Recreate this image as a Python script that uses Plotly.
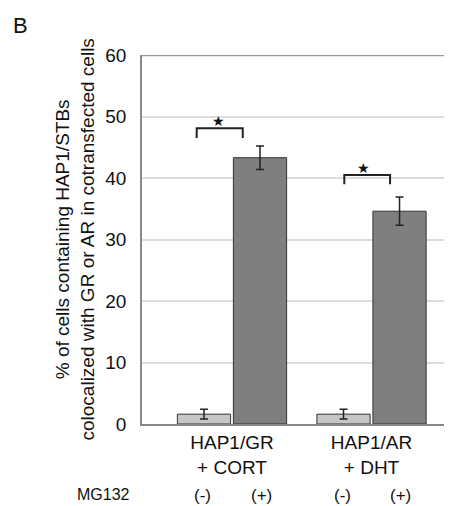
import plotly.graph_objects as go

categories = ["HAP1/GR<br>+ CORT", "HAP1/AR<br>+ DHT"]
mg132_minus = [1.6, 1.6]
mg132_minus_err = [0.8, 0.8]
mg132_plus = [43.3, 34.6]
mg132_plus_err = [1.9, 2.3]
y_ticks = [0, 10, 20, 30, 40, 50, 60]
signs = ["(-)", "(+)"]

FONT = "Liberation Sans, Arial, sans-serif"
INK = "#111111"

fig = go.Figure()
fig.add_trace(go.Bar(
    x=[0, 1], y=mg132_minus, name="MG132 (-)",
    marker=dict(color="#c6c6c6", line=dict(color="#333333", width=1)),
    error_y=dict(type="data", array=mg132_minus_err, color="#222222", thickness=1.5, width=4),
))
fig.add_trace(go.Bar(
    x=[0, 1], y=mg132_plus, name="MG132 (+)",
    marker=dict(color="#7f7f7f", line=dict(color="#333333", width=1)),
    error_y=dict(type="data", array=mg132_plus_err, color="#222222", thickness=1.5, width=4),
))

# significance brackets: (group, left offset, right offset, top y, leg y, star offset)
brackets = [(0, -0.253, 0.077, 48.1, 46.5, -0.10), (1, -0.195, 0.133, 40.5, 39.0, -0.054)]
for g, x0, x1, ytop, yleg, xs in brackets:
    fig.add_shape(type="path",
                  path=f"M {g+x0} {yleg} L {g+x0} {ytop} L {g+x1} {ytop} L {g+x1} {yleg}",
                  line=dict(color="#222222", width=2), xref="x", yref="y")
    fig.add_annotation(x=g + xs, y=ytop, text="★", showarrow=False, yanchor="middle",
                       font=dict(size=14, color=INK, family="DejaVu Sans"), yshift=7)

for g in range(2):
    for i, s in enumerate(signs):
        fig.add_annotation(x=g + (-0.208 if i == 0 else 0.208), xref="x",
                           y=-0.194, yref="paper", yanchor="middle", text=s, showarrow=False,
                           font=dict(size=17, color=INK, family=FONT))
fig.add_annotation(x=-0.033, xref="paper", y=-0.192, yref="paper", xanchor="right", yanchor="middle",
                   text="MG132", showarrow=False, font=dict(size=16, color=INK, family=FONT))
fig.add_annotation(x=-0.43, xref="paper", y=1.081, yref="paper", xanchor="left", yanchor="middle",
                   text="B", showarrow=False, font=dict(size=22, color=INK, family=FONT))
fig.add_annotation(x=-0.2197, xref="paper", y=0.5, yref="paper", xanchor="center", yanchor="middle",
                   textangle=-90, showarrow=False,
                   text="% of cells containing HAP1/STBs<br>colocalized with GR or AR in cotransfected cells",
                   font=dict(size=19, color=INK, family=FONT))

# page body has an 8px margin, so the figure is offset by 8px right and down
fig.update_layout(
    width=444, height=498,
    margin=dict(l=134, r=5, t=47, b=82),
    paper_bgcolor="white", plot_bgcolor="white",
    barmode="group", bargap=0.197, bargroupgap=0.05,
    showlegend=False,
    font=dict(family=FONT, color=INK),
)

fig.update_xaxes(
    type="linear", range=[-0.645, 1.541],
    tickvals=[0, 1], ticktext=categories,
    tickfont=dict(size=19, color=INK, family=FONT),
    showline=True, linecolor="#888888", linewidth=2, mirror=False,
    showgrid=False, zeroline=False, ticks="",
)
fig.update_yaxes(
    range=[0, 60], tickvals=y_ticks,
    tickfont=dict(size=19, color=INK, family=FONT),
    showline=True, linecolor="#888888", linewidth=1.5,
    showgrid=True, gridcolor="#dddddd", gridwidth=1.5,
    zeroline=False, ticks="", ticklabelstandoff=10,
)
fig.add_shape(type="line", xref="paper", yref="y", x0=0, x1=1, y0=60, y1=60,
              line=dict(color="#999999", width=2.5))
fig.add_shape(type="line", xref="paper", yref="paper", x0=1, x1=1, y0=0, y1=1,
              line=dict(color="#eeeeee", width=1))

fig.write_html("out.html")
